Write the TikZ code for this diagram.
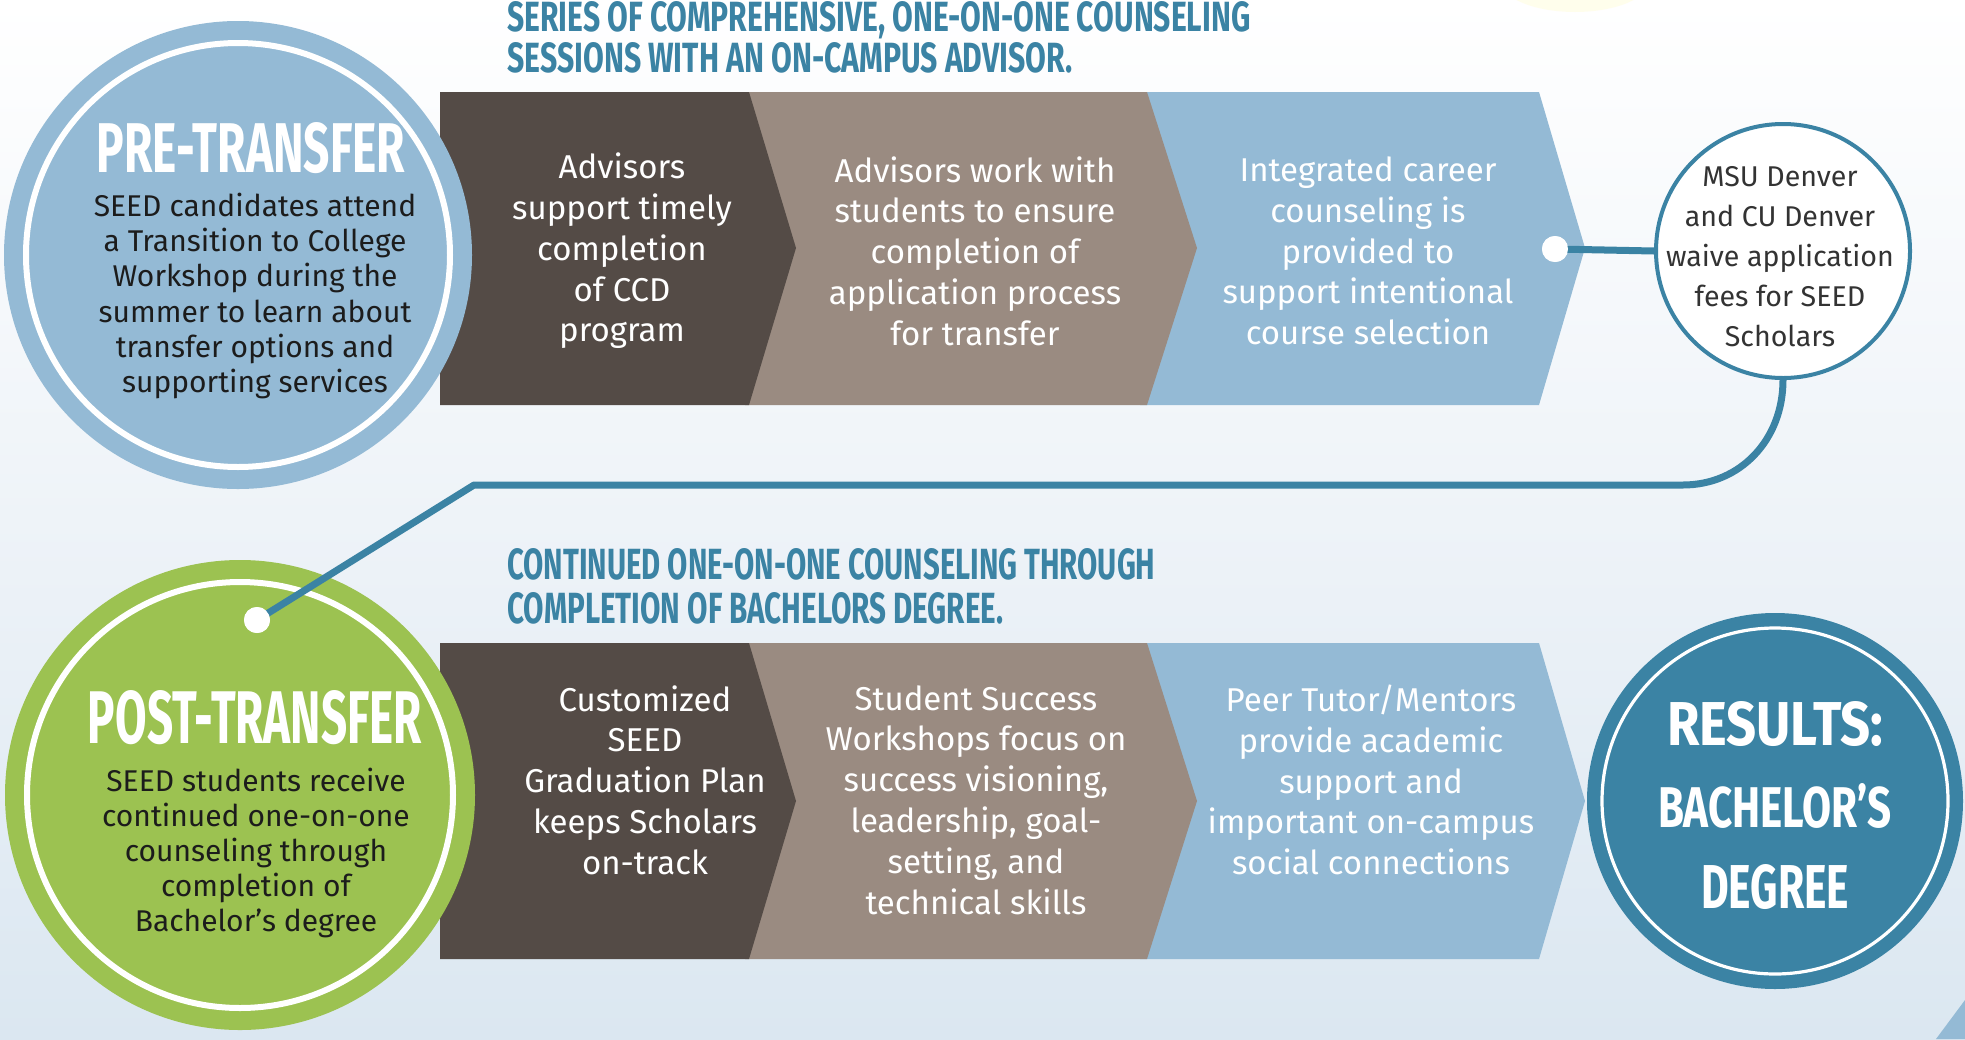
\documentclass[tikz,border=0pt]{standalone}
\usepackage{fontspec}
\setmainfont{Fira Sans}
\usepackage{graphicx}
\definecolor{darkseg}{HTML}{544B46}
\definecolor{tanseg}{HTML}{9A8B81}
\definecolor{blueseg}{HTML}{94BAD5}
\definecolor{tealc}{HTML}{3B83A4}
\definecolor{greenc}{HTML}{9CC251}
\definecolor{textdark}{HTML}{1C1C1C}
\definecolor{msutext}{HTML}{333333}
\definecolor{bgmid}{HTML}{EEF3F8}
\definecolor{bgbot}{HTML}{DBE7F1}
\newcommand{\fitto}[3]{\resizebox{#1}{#2}{\bfseries #3}}
\tikzset{
  chevtext/.style={align=center, text=white, inner sep=0pt,
    font=\fontsize{16.5pt}{20.4pt}\selectfont},
  circtext/.style={align=center, text=textdark, inner sep=0pt,
    font=\fontsize{15pt}{17.6pt}\selectfont},
  headtext/.style={anchor=base west, inner sep=0pt, text=tealc},
  bigcirc/.style={circle, inner sep=0pt, minimum size=#1},
  ringc/.style={circle, draw=white, inner sep=0pt, minimum size=#1},
  dotc/.style={circle, fill=white, inner sep=0pt, minimum size=13pt},
  link/.style={draw=tealc, line width=3.5pt},
}
\begin{document}
\begin{tikzpicture}[x=0.5pt,y=-0.5pt]
\useasboundingbox (0,0) rectangle (1965,1039);
\shade[top color=white, bottom color=bgbot, middle color=bgmid] (0,0) rectangle (1965,1039);
% faint blob top right
\fill[color=yellow!8!white, opacity=0.9] (1575,-20) ellipse [x radius=75, y radius=32];
% bottom-right wedge
\fill[blueseg] (1936,1039) -- (1965,1000) -- (1965,1039) -- cycle;

% ---- top band ----
\fill[blueseg] (1140,92) -- (1539,92) -- (1585,248) -- (1539,405) -- (1140,405) -- cycle;
\fill[tanseg] (745,92) -- (1147,92) -- (1197,248) -- (1147,405) -- (745,405) -- cycle;
\fill[darkseg] (440,92) -- (749,92) -- (796,248) -- (749,405) -- (440,405) -- cycle;

% ---- bottom band ----
\fill[blueseg] (1140,643) -- (1539,643) -- (1585,801) -- (1539,959) -- (1140,959) -- cycle;
\fill[tanseg] (745,643) -- (1147,643) -- (1197,801) -- (1147,959) -- (745,959) -- cycle;
\fill[darkseg] (440,643) -- (749,643) -- (796,801) -- (749,959) -- (440,959) -- cycle;

% ---- headers ----
\node[headtext] (h1) at (507,31) {\fitto{371.5pt}{15pt}{SERIES OF COMPREHENSIVE, ONE-ON-ONE COUNSELING}};
\node[headtext] (h2) at (507,72) {\fitto{282.5pt}{15pt}{SESSIONS WITH AN ON-CAMPUS ADVISOR.}};
\node[headtext] (h3) at (507,579) {\fitto{324pt}{15.5pt}{CONTINUED ONE-ON-ONE COUNSELING THROUGH}};
\node[headtext] (h4) at (507,623) {\fitto{248pt}{15.5pt}{COMPLETION OF BACHELORS DEGREE.}};

% ---- circles ----
\node[bigcirc=234pt, fill=blueseg] (pre) at (238,255) {};
\node[ringc=212pt, line width=3pt] (prering) at (pre.center) {};
\node[bigcirc=235pt, fill=greenc] (post) at (240,795) {};
\node[ringc=213pt, line width=3pt] (postring) at (post.center) {};
\node[bigcirc=188pt, fill=tealc] (res) at (1775,801) {};
\node[ringc=173pt, line width=1.6pt] (resring) at (res.center) {};
\node[bigcirc=127pt, fill=white, draw=tealc, line width=2pt] (msu) at (1783,251) {};

% ---- connectors ----
\node[dotc] (dotA) at (1555,249) {};
\node[dotc] (dotB) at (257,620) {};
\draw[link] (dotA.center) -- (msu.west);
\draw[link, line join=round] (dotB.center) -- (474,485) -- (1683,485)
   .. controls (1740,485) and (1783,440) .. (msu.south);
\node[dotc] at (dotA) {};
\node[dotc] at (dotB) {};

% ---- circle texts ----
\node[text=white, inner sep=0pt] (pretitle) at (251,148) {\fitto{154pt}{25pt}{PRE-TRANSFER}};
\node[circtext] (prebody) at (255,296) {SEED candidates attend\\a Transition to College\\Workshop during the\\summer to learn about\\transfer options and\\supporting services};
\node[text=white, inner sep=0pt] (posttitle) at (255,718) {\fitto{167pt}{26.5pt}{POST-TRANSFER}};
\node[circtext] (postbody) at (256,853) {SEED students receive\\continued one-on-one\\counseling through\\completion of\\Bachelor’s degree};
\node[text=white, inner sep=0pt] (r1) at (1775,724) {\fitto{108pt}{22pt}{RESULTS:}};
\node[text=white, inner sep=0pt] (r2) at (1775,806) {\fitto{117pt}{22pt}{BACHELOR’S}};
\node[text=white, inner sep=0pt] (r3) at (1775,887) {\fitto{74pt}{22pt}{DEGREE}};
\node[align=center, text=msutext, inner sep=0pt, font=\fontsize{14.3pt}{20pt}\selectfont] (msutxt) at (1780,257)
  {MSU Denver\\and CU Denver\\waive application\\fees for SEED\\Scholars};

% ---- chevron texts ----
\node[chevtext] (t1) at (622,251) {Advisors\\support timely\\completion\\of CCD\\program};
\node[chevtext] (t2) at (975,251) {Advisors work with\\students to ensure\\completion of\\application process\\for transfer};
\node[chevtext] (t3) at (1368,251) {Integrated career\\counseling is\\provided to\\support intentional\\course selection};
\node[chevtext] (b1) at (645,780) {Customized\\SEED\\Graduation Plan\\keeps Scholars\\on-track};
\node[chevtext] (b2) at (976,800) {Student Success\\Workshops focus on\\success visioning,\\leadership, goal-\\setting, and\\technical skills};
\node[chevtext] (b3) at (1371,780) {Peer Tutor/Mentors\\provide academic\\support and\\important on-campus\\social connections};
\end{tikzpicture}
\end{document}
